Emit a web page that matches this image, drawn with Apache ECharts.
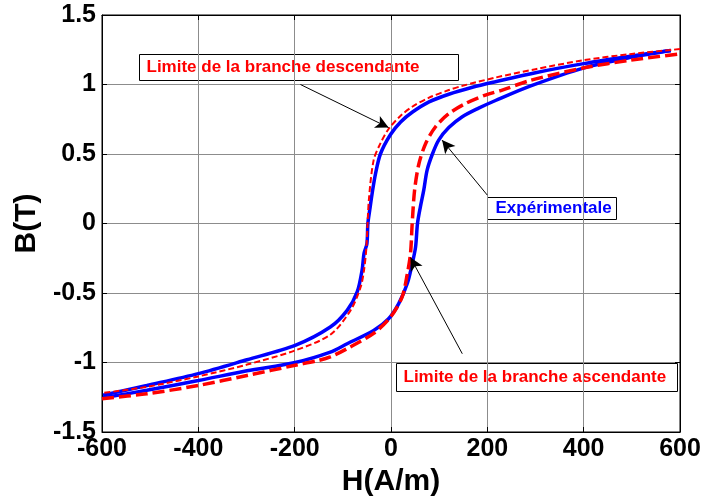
<!DOCTYPE html>
<html>
<head>
<meta charset="utf-8">
<script src="https://cdn.jsdelivr.net/npm/echarts@6/dist/echarts.min.js"></script>
<style>
  html, body { margin: 0; padding: 0; background: #fff; }
  #chart { width: 703px; height: 496px; }
</style>
</head>
<body>
<div id="chart"></div>
<script>
// Hysteresis loop B(H): measured loop and the two limit branches
const xTicks = [-600, -400, -200, 0, 200, 400, 600];
const yTicks = [-1.5, -1, -0.5, 0, 0.5, 1, 1.5];

// Measured loop, descending branch (H decreasing)
const expDescH = [581, 500, 400, 300, 217, 169, 120, 79, 44, 20, -1, -22, -32, -39, -44, -48, -50, -56, -60, -70, -91, -126, -199, -299, -400, -507, -598];
const expDescB = [1.245, 1.205, 1.15, 1.085, 1.02, 0.98, 0.93, 0.875, 0.80, 0.73, 0.64, 0.5, 0.36, 0.22, 0.1, 0, -0.145, -0.215, -0.335, -0.49, -0.625, -0.745, -0.877, -0.98, -1.08, -1.165, -1.235];

// Measured loop, ascending branch (H increasing)
const expAscH = [-598, -507, -400, -299, -199, -126, -91, -36, -5, 16, 34, 44, 51, 55, 61, 68, 75, 86, 99, 120, 148, 182, 217, 290, 401, 498, 581];
const expAscB = [-1.254, -1.2, -1.13, -1.06, -1.0, -0.925, -0.865, -0.77, -0.685, -0.576, -0.43, -0.29, -0.17, 0, 0.12, 0.24, 0.384, 0.5, 0.6, 0.69, 0.768, 0.83, 0.885, 0.99, 1.12, 1.195, 1.245];

// Limit of the descending branch
const limDescH = [600, 500, 400, 300, 217, 148, 120, 79, 44, 20, -5, -22, -36, -46, -51, -56, -63, -84, -126, -199, -299, -400, -507, -600];
const limDescB = [1.255, 1.22, 1.175, 1.11, 1.05, 0.99, 0.96, 0.905, 0.84, 0.775, 0.68, 0.576, 0.456, 0.168, -0.168, -0.336, -0.457, -0.625, -0.8, -0.913, -1.015, -1.10, -1.175, -1.22];

// Limit of the ascending branch
const limAscH = [-600, -507, -400, -299, -199, -150, -126, -91, -36, -1, 23, 34, 40.5, 44, 49, 58, 72, 92.5, 120, 155, 196, 231, 290, 401, 498, 600];
const limAscB = [-1.26, -1.225, -1.165, -1.093, -1.02, -0.985, -0.96, -0.9, -0.79, -0.673, -0.529, -0.36, -0.216, 0, 0.24, 0.43, 0.576, 0.696, 0.79, 0.864, 0.924, 0.96, 1.03, 1.12, 1.175, 1.22];

// Annotation arrows: [fromH, fromB, tipH, tipB]
const arrowDesc = [-188, 1.0, -5, 0.69];
const arrowExp = [200, 0.204, 106, 0.60];
const arrowAsc = [148, -0.937, 40.5, -0.245];

const FONT = '"Liberation Sans", Arial, sans-serif';

function pairs(xs, ys) { return xs.map((x, i) => [x, ys[i]]); }

function arrowLine(a) {
  return [{ coord: [a[0], a[1]], symbol: 'none' }, { coord: [a[2], a[3]], symbol: 'arrow' }];
}

const chart = echarts.init(document.getElementById('chart'), null, { renderer: 'canvas' });

const baseAxis = {
  type: 'value',
  axisLine: { show: true, onZero: false, lineStyle: { color: '#000', width: 1 } },
  axisTick: { show: true, inside: true, length: 5, lineStyle: { color: '#000' } },
  splitLine: { show: false },
  axisLabel: { show: false }
};

chart.setOption({
  animation: false,
  backgroundColor: '#fff',
  grid: {
    left: 102, right: 23, top: 15, bottom: 64,
    containLabel: false, outerBoundsMode: 'none',
    show: true, borderColor: '#000', borderWidth: 1
  },
  xAxis: [
    Object.assign({}, baseAxis, {
      min: xTicks[0], max: xTicks[xTicks.length - 1], interval: 200,
      position: 'bottom',
      splitLine: { show: true, lineStyle: { color: '#8c8c8c', width: 1 } },
      axisLabel: { show: true, color: '#000', fontFamily: FONT, fontWeight: 'bold', fontSize: 25, margin: 5 },
      name: 'H(A/m)', nameLocation: 'middle', nameGap: 24,
      nameTextStyle: { color: '#000', fontFamily: FONT, fontWeight: 'bold', fontSize: 30 }
    }),
    Object.assign({}, baseAxis, {
      min: xTicks[0], max: xTicks[xTicks.length - 1], interval: 200, position: 'top'
    })
  ],
  yAxis: [
    Object.assign({}, baseAxis, {
      min: yTicks[0], max: yTicks[yTicks.length - 1], interval: 0.5,
      position: 'left',
      splitLine: { show: true, lineStyle: { color: '#8c8c8c', width: 1 } },
      axisLabel: { show: true, color: '#000', fontFamily: FONT, fontWeight: 'bold', fontSize: 25, margin: 6,
                   formatter: v => String(v) },
      name: 'B(T)', nameLocation: 'middle', nameGap: 53, nameRotate: 90,
      nameTextStyle: { color: '#000', fontFamily: FONT, fontWeight: 'bold', fontSize: 30 }
    }),
    Object.assign({}, baseAxis, {
      min: yTicks[0], max: yTicks[yTicks.length - 1], interval: 0.5, position: 'right'
    })
  ],
  series: [
    {
      name: 'Expérimentale (desc)', type: 'line', data: pairs(expDescH, expDescB),
      showSymbol: false, smooth: 0.3, lineStyle: { color: '#0000ff', width: 3.5 }, z: 3
    },
    {
      name: 'Expérimentale (asc)', type: 'line', data: pairs(expAscH, expAscB),
      showSymbol: false, smooth: 0.3, lineStyle: { color: '#0000ff', width: 3.5 }, z: 3
    },
    {
      name: 'Limite de la branche descendante', type: 'line', data: pairs(limDescH, limDescB),
      showSymbol: false, smooth: 0.3, lineStyle: { color: '#ff0000', width: 2, type: [6, 3] }, z: 4
    },
    {
      name: 'Limite de la branche ascendante', type: 'line', data: pairs(limAscH, limAscB),
      showSymbol: false, smooth: 0.3, lineStyle: { color: '#ff0000', width: 3.5, type: [12, 5] }, z: 4,
      markLine: {
        silent: true, animation: false,
        symbolSize: [10, 13],
        lineStyle: { color: '#000', width: 1, type: 'solid' },
        label: { show: false },
        data: [arrowLine(arrowDesc), arrowLine(arrowExp), arrowLine(arrowAsc)]
      }
    }
  ],
  graphic: [
    {
      type: 'group', left: 139, top: 54, z: 10,
      children: [
        { type: 'rect', shape: { x: 0, y: 0, width: 319, height: 26 }, style: { fill: '#fff', stroke: '#000', lineWidth: 1 } },
        { type: 'text', x: 7, y: 13, style: { text: 'Limite de la branche descendante', fill: '#ff0000', font: 'bold 17px ' + FONT, verticalAlign: 'middle' } }
      ]
    },
    {
      type: 'group', left: 487, top: 197, z: 10,
      children: [
        { type: 'rect', shape: { x: 0, y: 0, width: 129, height: 22 }, style: { fill: '#fff', stroke: '#000', lineWidth: 1 } },
        { type: 'text', x: 8, y: 11, style: { text: 'Expérimentale', fill: '#0000ff', font: 'bold 17px ' + FONT, verticalAlign: 'middle' } }
      ]
    },
    {
      type: 'group', left: 396, top: 363, z: 10,
      children: [
        { type: 'rect', shape: { x: 0, y: 0, width: 281, height: 28 }, style: { fill: '#fff', stroke: '#000', lineWidth: 1 } },
        { type: 'text', x: 7, y: 14, style: { text: 'Limite de la branche ascendante', fill: '#ff0000', font: 'bold 17px ' + FONT, verticalAlign: 'middle' } }
      ]
    }
  ]
});
</script>
</body>
</html>
